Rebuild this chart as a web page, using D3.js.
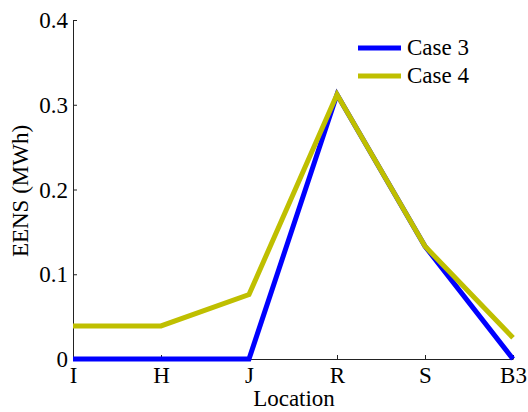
<!DOCTYPE html>
<html>
<head>
<meta charset="utf-8">
<script src="https://cdn.jsdelivr.net/npm/d3@7"></script>
<style>
  body { margin: 0; background: #fff; }
</style>
</head>
<body>
<div id="container"></div>
<script>
/* CONSTANTS AND GLOBALS */
const width = 528,
  height = 412,
  margin = {top: 20, left: 73, bottom: 53, right: 15};
const font = "Liberation Serif, Tinos, DejaVu Serif, serif";
const fontSize = "23px";

/* DATA */
const locations = ["I", "H", "J", "R", "S", "B3"];
const case3 = [0, 0, 0, 0.312, 0.133, 0];
const case4 = [0.039, 0.039, 0.076, 0.312, 0.133, 0.025];
const yTicks = [0, 0.1, 0.2, 0.3, 0.4];
const seriesNames = ["Case 3", "Case 4"];
const colors = ["#0000ff", "#bfbf00"];

const series = [case3, case4];

// SCALES
const xScale = d3.scalePoint()
  .domain(locations)
  .range([margin.left, width - margin.right]);

const yScale = d3.scaleLinear()
  .domain([0, 0.4])
  .range([height - margin.bottom, margin.top]);

// CREATE SVG ELEMENT
const svg = d3.select("#container")
  .append("svg")
  .attr("width", width)
  .attr("height", height)
  .attr("font-family", font);

// AXES
const xAxis = d3.axisBottom(xScale).tickSizeInner(-4).tickSizeOuter(0);
const yAxis = d3.axisLeft(yScale).tickValues(yTicks).tickSizeInner(-4).tickSizeOuter(0)
  .tickFormat(d => d === 0 ? "0" : d3.format(".1f")(d));

const gx = svg.append("g")
  .attr("transform", `translate(0,${height - margin.bottom})`)
  .call(xAxis)
  .attr("font-family", font)
  .attr("font-size", fontSize);
gx.selectAll("text").attr("y", 24).attr("dy", null);

const gy = svg.append("g")
  .attr("transform", `translate(${margin.left},0)`)
  .call(yAxis)
  .attr("font-family", font)
  .attr("font-size", fontSize);
gy.selectAll("text").attr("x", -5).attr("dy", "0.33em");

svg.selectAll(".domain, .tick line").attr("stroke", "#222").attr("stroke-width", 1);

// LINE GENERATOR
const lineGen = d3.line()
  .x((d, i) => xScale(locations[i]))
  .y(d => yScale(d));

svg.selectAll(".line")
  .data(series)
  .join("path")
  .attr("class", "line")
  .attr("d", d => lineGen(d))
  .attr("stroke", (d, i) => colors[i])
  .attr("stroke-width", 5)
  .attr("fill", "none");

// AXIS TITLES
svg.append("text")
  .attr("x", 294)
  .attr("y", 406)
  .attr("text-anchor", "middle")
  .attr("font-size", fontSize)
  .text("Location");

svg.append("text")
  .attr("transform", `translate(28,191) rotate(-90)`)
  .attr("text-anchor", "middle")
  .attr("font-size", fontSize)
  .text("EENS (MWh)");

// LEGEND
const legend = svg.append("g")
  .attr("transform", "translate(358,48)");

legend.selectAll("line")
  .data(seriesNames)
  .join("line")
  .attr("x1", 0)
  .attr("x2", 43)
  .attr("y1", (d, i) => i * 28)
  .attr("y2", (d, i) => i * 28)
  .attr("stroke", (d, i) => colors[i])
  .attr("stroke-width", 5);

legend.selectAll("text")
  .data(seriesNames)
  .join("text")
  .attr("x", 49)
  .attr("y", (d, i) => i * 28)
  .attr("dy", "0.3em")
  .attr("font-size", fontSize)
  .text(d => d);
</script>
</body>
</html>
